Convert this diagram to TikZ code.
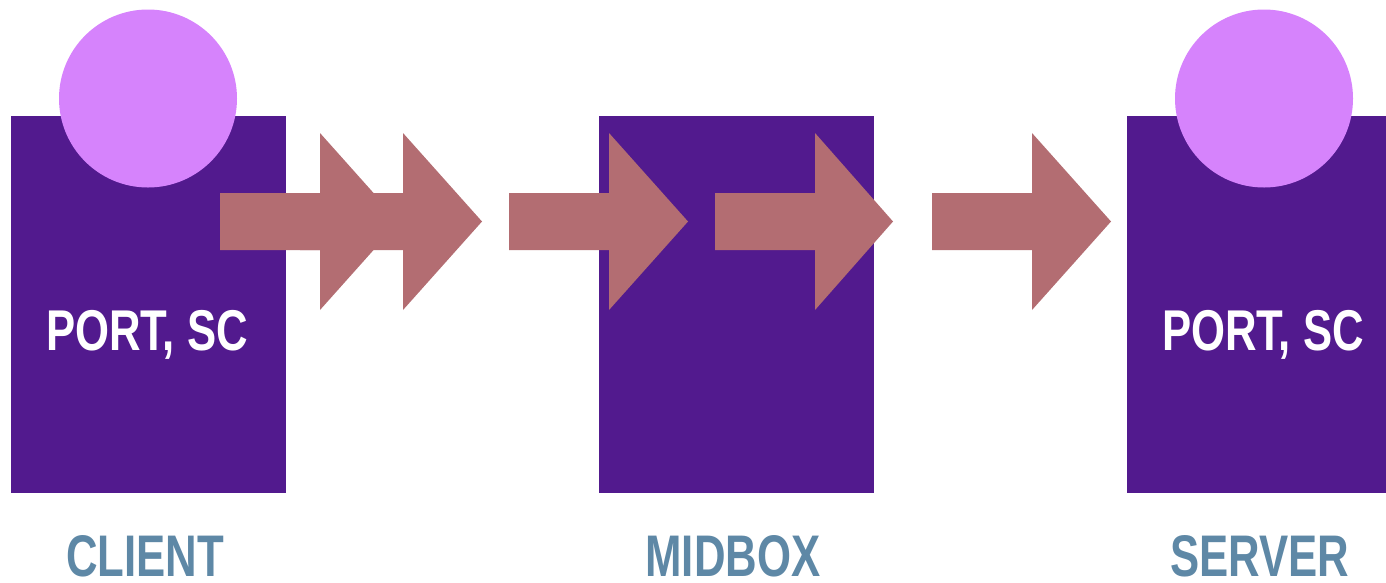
\documentclass[tikz,border=0pt]{standalone}
\usepackage{fontspec}
\setmainfont{Liberation Sans}
\usepackage{graphicx}
\definecolor{boxpurple}{HTML}{521A8E}
\definecolor{headpink}{HTML}{D683FC}
\definecolor{arrowrose}{HTML}{B36D72}
\definecolor{labelblue}{HTML}{5E88A6}
\tikzset{
  hostbox/.style={fill=boxpurple, draw=none, rectangle, inner sep=0pt, minimum width=275pt, minimum height=377pt},
  headcircle/.style={fill=headpink, draw=none, circle, inner sep=0pt, minimum size=178pt},
  porttext/.style={text=white, font=\fontsize{57.5}{60}\selectfont\bfseries, inner sep=0pt},
  roletext/.style={text=labelblue, font=\fontsize{58.7}{62}\selectfont\bfseries, inner sep=0pt},
  fatarrow/.style={fill=arrowrose, draw=none}
}
% #1 = shaft start x, #2 = head base x, #3 = tip x
\newcommand{\fatarr}[3]{\fill[fatarrow] (#1,-193) -- (#2,-193) -- (#2,-133) -- (#3,-221.5) -- (#2,-310) -- (#2,-250) -- (#1,-250) -- cycle;}
\begin{document}
\begin{tikzpicture}[x=1pt,y=1pt]
\useasboundingbox (0,0) rectangle (1386,-582);
\begin{scope}
\clip (0,0) rectangle (1386,-582);
\node[hostbox] (client) at (148.5,-304.5) {};
\node[hostbox] (midbox) at (736.5,-304.5) {};
\node[hostbox] (server) at (1264.5,-304.5) {};
\node[headcircle] (clienthead) at (148,-98.5) {};
\node[headcircle] (serverhead) at (1264,-98.5) {};
\end{scope}
\fatarr{220}{320}{399}
\fatarr{300}{403}{482}
\fatarr{509}{609}{688}
\fatarr{715}{815}{893}
\fatarr{932}{1032}{1111}
\node[porttext, anchor=base] (clientport) at (147,-350) {\scalebox{0.76}[1]{PORT, SC}};
\node[porttext, anchor=base] (serverport) at (1263,-350) {\scalebox{0.76}[1]{PORT, SC}};
\node[roletext, anchor=base] (clientlabel) at (145,-576) {\scalebox{0.745}[1]{CLIENT}};
\node[roletext, anchor=base] (midboxlabel) at (733,-576) {\scalebox{0.745}[1]{MIDBOX}};
\node[roletext, anchor=base] (serverlabel) at (1260,-576) {\scalebox{0.745}[1]{SERVER}};
\end{tikzpicture}
\end{document}
